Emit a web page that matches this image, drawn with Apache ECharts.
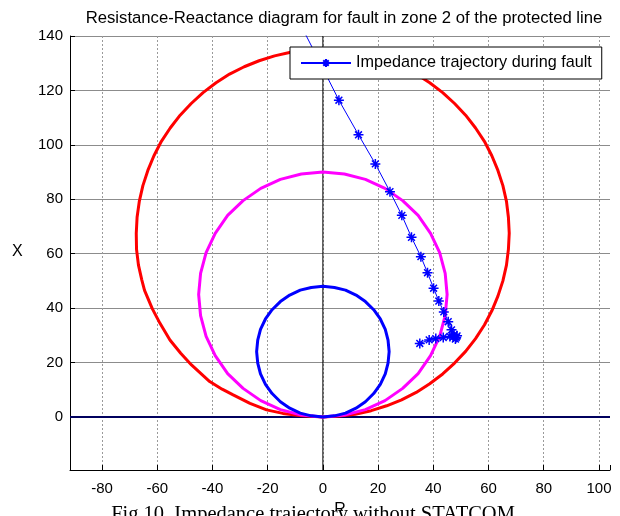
<!DOCTYPE html>
<html>
<head>
<meta charset="utf-8">
<script src="https://cdn.jsdelivr.net/npm/echarts@6/dist/echarts.min.js"></script>
<style>
  html, body { margin: 0; padding: 0; background: #fff; }
  #chart { width: 620px; height: 516px; }
</style>
</head>
<body>
<div id="chart"></div>
<script>
// axis limits (axis equal)
const rLimits = [-91.6, 104];
const xLimits = [-19.5, 140];

// zero axes
const zeroVertical = [[0, -19.5], [0, 140]];
const zeroHorizontal = [[-91.6, 0], [104, 0]];

// zone circles [R, X]
const zone3Circle = [
  [0, 0], [5.9, 0.3], [11.7, 1.0], [17.5, 2.3], [23.1, 4.1], [28.5, 6.3], [33.8, 9.0],
  [38.7, 12.2], [43.4, 15.8], [47.7, 19.8], [51.7, 24.1], [55.3, 28.8], [58.5, 33.8],
  [61.2, 39.0], [63.4, 44.4], [65.2, 50.0], [66.5, 55.8], [67.2, 61.6], [67.5, 67.5],
  [67.2, 73.4], [66.5, 79.2], [65.2, 85.0], [63.4, 90.6], [61.2, 96.0], [58.5, 101.3],
  [55.3, 106.2], [51.7, 110.9], [47.7, 115.2], [43.4, 119.2], [38.7, 122.8], [33.8, 126.0],
  [28.5, 128.7], [23.1, 130.9], [17.5, 132.7], [11.7, 134.0], [5.9, 134.7], [0, 135],
  [-5.9, 134.7], [-11.7, 134.0], [-17.5, 132.7], [-23.1, 130.9], [-28.5, 128.7],
  [-33.8, 126.0], [-38.7, 122.8], [-43.4, 119.2], [-47.7, 115.2], [-51.7, 110.9],
  [-55.3, 106.2], [-58.5, 101.3], [-61.2, 96.0], [-63.4, 90.6], [-65.2, 85.0], [-66.5, 79.2],
  [-67.3, 73.4], [-67.6, 67.5], [-67.5, 61.6], [-66.8, 55.8], [-65.6, 50.4], [-64.6, 46.5],
  [-61.8, 39.8], [-59.0, 34.4], [-55.4, 28.3], [-51.5, 23.4], [-47.6, 19.1], [-41.0, 13.0],
  [-36.5, 10.2], [-32.5, 8.1], [-26.4, 5.0], [-20.4, 2.6], [-14.5, 1.3], [-8.5, 0.5], [0, 0]
];
const zone2Circle = [
  [0, 0], [7.8, 0.7], [15.4, 2.7], [22.5, 6.0], [28.9, 10.5], [34.5, 15.9], [39.0, 22.5],
  [42.3, 29.6], [44.3, 37.2], [45, 45], [44.3, 52.8], [42.3, 60.4], [39.0, 67.5],
  [34.5, 74.1], [28.9, 79.5], [22.5, 84.0], [15.4, 87.3], [7.8, 89.3], [0, 90],
  [-7.8, 89.3], [-15.4, 87.3], [-22.5, 84.0], [-28.9, 79.5], [-34.5, 74.1], [-39.0, 67.5],
  [-42.3, 60.4], [-44.3, 52.8], [-45, 45], [-44.3, 37.2], [-42.3, 29.6], [-39.0, 22.5],
  [-34.5, 15.9], [-28.9, 10.5], [-22.5, 6.0], [-15.4, 2.7], [-7.8, 0.7], [0, 0]
];
const zone1Circle = [
  [0, 0], [4.2, 0.4], [8.2, 1.4], [12, 3.2], [15.4, 5.6], [18.4, 8.6], [20.8, 12],
  [22.6, 15.8], [23.6, 19.8], [24, 24], [23.6, 28.2], [22.6, 32.2], [20.8, 36],
  [18.4, 39.4], [15.4, 42.4], [12, 44.8], [8.2, 46.6], [4.2, 47.6], [0, 48],
  [-4.2, 47.6], [-8.2, 46.6], [-12, 44.8], [-15.4, 42.4], [-18.4, 39.4], [-20.8, 36],
  [-22.6, 32.2], [-23.6, 28.2], [-24, 24], [-23.6, 19.8], [-22.6, 15.8], [-20.8, 12],
  [-18.4, 8.6], [-15.4, 5.6], [-12, 3.2], [-8.2, 1.4], [-4.2, 0.4], [0, 0]
];

// impedance trajectory during fault [R, X]
const trajectory = [
  [-9.5, 147], [-1.2, 130.5], [5.8, 116.4], [12.9, 103.7], [19.0, 93.0], [24.3, 82.8],
  [28.6, 74.1], [32.1, 66.0], [35.5, 58.9], [37.9, 53.0], [40.1, 47.3], [42.0, 42.6],
  [43.8, 38.6], [45.4, 35.0], [46.6, 32.0], [47.5, 30.2], [48.3, 29.2], [48.6, 29.8],
  [48.0, 28.6], [47.2, 29.4], [46.0, 29.6], [43.6, 29.2], [40.9, 28.8], [38.5, 28.3],
  [35.1, 27.0]
];

const titleText = 'Resistance-Reactance diagram for fault in zone 2 of the protected line';
const legendName = 'Impedance trajectory during fault';
const captionText = 'Fig.10. Impedance trajectory without STATCOM';

const font = "'Liberation Sans', Arial, sans-serif";
const asterisk = 'path://M5 0 L5 10 M0 5 L10 5 M1.6 1.6 L8.4 8.4 M1.6 8.4 L8.4 1.6';

const chart = echarts.init(document.getElementById('chart'), null, { renderer: 'canvas' });

const option = {
  backgroundColor: '#fff',
  animation: false,
  title: {
    text: titleText,
    left: 339,
    textAlign: 'center',
    top: 5,
    textStyle: { fontFamily: font, fontSize: 16.7, fontWeight: 'normal', color: '#000' }
  },
  legend: {
    data: [legendName],
    left: 290,
    top: 47,
    padding: [8, 10, 8, 10],
    itemWidth: 50,
    itemHeight: 10,
    itemGap: 6,
    borderColor: '#000',
    borderWidth: 1,
    backgroundColor: '#fff',
    textStyle: { fontFamily: font, fontSize: 16.2, color: '#000' }
  },
  grid: { left: 70, right: 10, top: 36, bottom: 46 },
  xAxis: {
    type: 'value',
    min: rLimits[0],
    max: rLimits[1],
    splitNumber: 10,
    axisLine: { onZero: false, lineStyle: { color: '#000', width: 1 } },
    axisTick: { inside: true, length: 5, lineStyle: { color: '#000' } },
    axisLabel: {
      margin: 11,
      fontFamily: font, fontSize: 15, color: '#000',
      formatter: v => (Math.abs(v % 20) < 1e-6 ? String(v) : '')
    },
    splitLine: {
      show: true, showMinLine: false, showMaxLine: false,
      lineStyle: { color: '#9a9a9a', type: [2, 2], width: 1 }
    }
  },
  yAxis: {
    type: 'value',
    min: xLimits[0],
    max: xLimits[1],
    splitNumber: 8,
    axisLine: { onZero: false, lineStyle: { color: '#000', width: 1 } },
    axisTick: { inside: true, length: 5, lineStyle: { color: '#000' } },
    axisLabel: {
      margin: 7,
      fontFamily: font, fontSize: 15, color: '#000',
      formatter: v => (Math.abs(v % 20) < 1e-6 ? String(v) : '')
    },
    splitLine: {
      show: true, showMinLine: false,
      lineStyle: { color: '#8c8c8c', width: 1 }
    }
  },
  graphic: [
    { type: 'text', left: 12, top: 244, style: { text: 'X', font: '16px ' + font, fill: '#000' } },
    { type: 'text', x: 340, y: 502, style: { text: 'R', font: '16px ' + font, fill: '#000', align: 'center' } },
    { type: 'rect', shape: { x: 0, y: 511, width: 620, height: 10 }, style: { fill: '#fff' } },
    {
      type: 'text', x: 313, y: 504,
      style: { text: captionText, font: "20.5px 'Liberation Serif', 'Times New Roman', serif", fill: '#000', align: 'center' }
    }
  ],
  series: [
    {
      type: 'line', data: zeroVertical, symbol: 'none', silent: true,
      lineStyle: { color: '#000', width: 1 }
    },
    {
      type: 'line', data: zeroHorizontal, symbol: 'none', silent: true,
      lineStyle: { color: '#00005e', width: 2 }
    },
    {
      type: 'line', data: zone3Circle, symbol: 'none', clip: true,
      lineStyle: { color: '#ff0000', width: 3 }
    },
    {
      type: 'line', data: zone2Circle, symbol: 'none',
      lineStyle: { color: '#ff00ff', width: 3 }
    },
    {
      type: 'line', data: zone1Circle, symbol: 'none',
      lineStyle: { color: '#0000ff', width: 3 }
    },
    {
      name: legendName,
      type: 'line',
      data: trajectory,
      clip: true,
      showAllSymbol: true,
      symbol: asterisk,
      symbolSize: 10,
      itemStyle: { color: '#0000ff', borderColor: '#0000ff', borderWidth: 1.5 },
      lineStyle: { color: '#0000ff', width: 1 }
    }
  ]
};

chart.setOption(option);
</script>
</body>
</html>
